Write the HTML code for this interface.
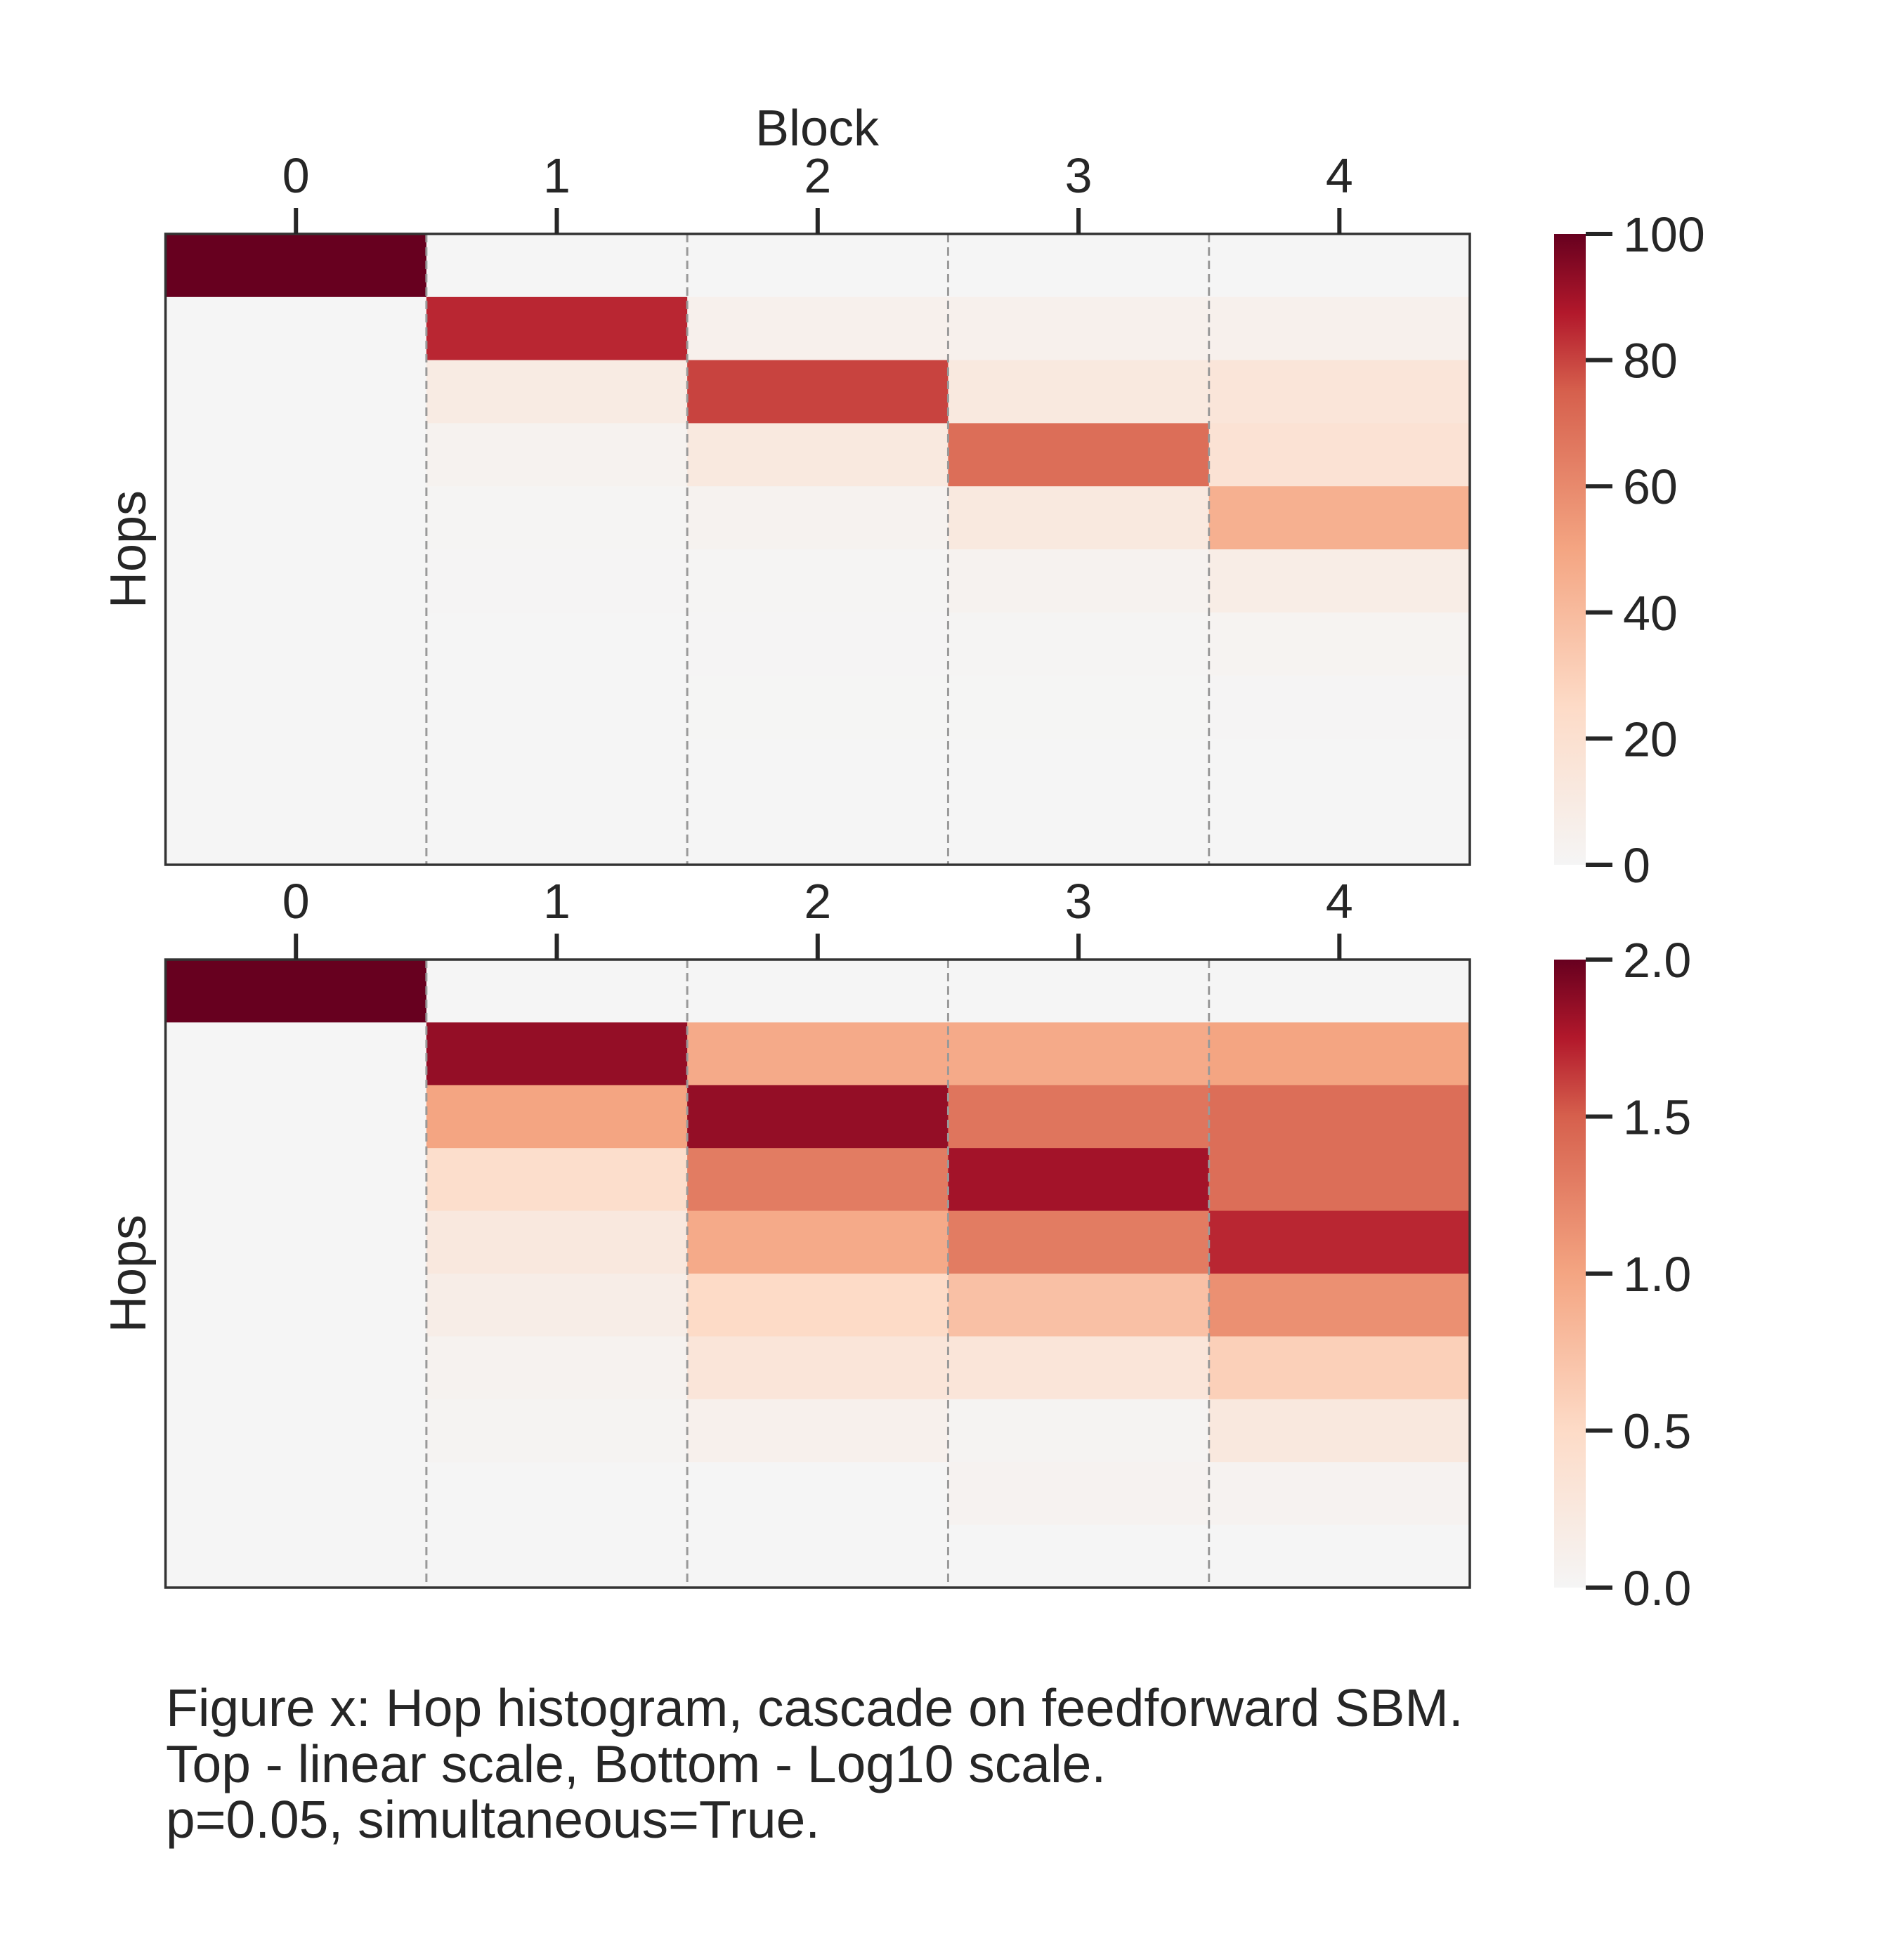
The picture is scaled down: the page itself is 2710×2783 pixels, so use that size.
<!DOCTYPE html>
<html><head><meta charset="utf-8"><style>
html,body{margin:0;padding:0;background:#fff;}
svg{display:block;font-family:"Liberation Sans",Arial,sans-serif;fill:#262626;}
</style></head><body>
<svg id="fig" width="2710" height="2783" viewBox="0 0 2710 2783" xmlns="http://www.w3.org/2000/svg">
<defs>
<linearGradient id="cb" x1="0" y1="1" x2="0" y2="0">
<stop offset="0" stop-color="#f5f5f5"/><stop offset="0.25" stop-color="#fddbc7"/><stop offset="0.5" stop-color="#f4a582"/><stop offset="0.75" stop-color="#d6604d"/><stop offset="0.875" stop-color="#b2182b"/><stop offset="1" stop-color="#67001f"/>
</linearGradient>
</defs>
<g id="layer"></g>
<text x="1163" y="207" font-size="72" text-anchor="middle">Block</text>
<text font-size="75">
<tspan x="236" y="2457">Figure x: Hop histogram, cascade on feedforward SBM.</tspan>
<tspan x="236" y="2537">Top - linear scale, Bottom - Log10 scale.</tspan>
<tspan x="236" y="2616">p=0.05, simultaneous=True.</tspan>
</text>
</svg>
<script>
const blocks = [0,1,2,3,4];
const topValues = [
 [100,0,0,0,0],
 [0,85,5,5,5],
 [0,10,80,12,15],
 [0,3,12,70,18],
 [0,1,3,12,45],
 [0,0.5,1,3,8],
 [0,0,0.5,1,2],
 [0,0,0.3,0.3,0.5],
 [0,0,0,0.2,0],
 [0,0,0,0,0]
];
const bottomValues = [
 [2,0,0,0,0],
 [0,1.85,0.95,0.95,1.0],
 [0,1.0,1.85,1.35,1.4],
 [0,0.45,1.3,1.8,1.4],
 [0,0.25,0.95,1.3,1.7],
 [0,0.15,0.5,0.75,1.15],
 [0,0.06,0.3,0.3,0.6],
 [0,0.03,0.1,0.03,0.25],
 [0,0,0,0.05,0.05],
 [0,0,0,0,0]
];
const topTicks = ["0","20","40","60","80","100"];
const topTickVals = [0,20,40,60,80,100];
const bottomTicks = ["0.0","0.5","1.0","1.5","2.0"];
const bottomTickVals = [0,0.5,1,1.5,2];

const NS="http://www.w3.org/2000/svg";
const layer=document.getElementById('layer');
function mk(tag,attrs){const e=document.createElementNS(NS,tag);for(const k in attrs)e.setAttribute(k,attrs[k]);layer.appendChild(e);return e;}
const stops=[[0,[245,245,245]],[0.25,[253,219,199]],[0.5,[244,165,130]],[0.75,[214,96,77]],[0.875,[178,24,43]],[1,[103,0,31]]];
function cmap(t){t=Math.max(0,Math.min(1,t));for(let i=1;i<stops.length;i++){if(t<=stops[i][0]){const a=stops[i-1],b=stops[i];const f=(t-a[0])/(b[0]-a[0]);const c=a[1].map((v,j)=>Math.round(v+(b[1][j]-v)*f));return `rgb(${c})`;}}return 'rgb(103,0,31)';}

const L=235.6,R=2092,CBX=2212,CBW=45;
function panel(vals,top,bot,vmax,ticks,tickVals,name){
  const cw=(R-L)/blocks.length, rh=(bot-top)/vals.length;
  const xs=b=>L+b*cw, ys=r=>top+r*rh;
  vals.forEach((row,r)=>row.forEach((v,b)=>{
    const e=mk('rect',{x:xs(b),y:ys(r),width:cw+0.5,height:rh+0.5,fill:cmap(v/vmax)});
    
    
  }));
  for(let b=1;b<blocks.length;b++){
    const e=mk('line',{x1:xs(b),x2:xs(b),y1:top,y2:bot,stroke:'#999',"stroke-width":3,"stroke-dasharray":"12,7"});
    
    
  }
  const fr=mk('rect',{x:L,y:top,width:R-L,height:bot-top,fill:'none',stroke:'#333',"stroke-width":3.5});
  
  
  blocks.forEach(b=>{
    const cx=xs(b)+cw/2;
    const t=mk('line',{x1:cx,x2:cx,y1:top-37,y2:top,stroke:'#262626',"stroke-width":6});
    
    
    const tx=mk('text',{x:cx,y:top-59,"font-size":70,"text-anchor":"middle"});
    tx.textContent=String(b);
    
    
  });
  const yl=mk('text',{x:0,y:0,"font-size":72,"text-anchor":"middle",transform:`translate(207,${(top+bot)/2}) rotate(-90)`});
  yl.textContent='Hops';
  
  
  const cb=mk('rect',{x:CBX,y:top,width:CBW,height:bot-top,fill:'url(#cb)'});
  
  
  tickVals.forEach((tv,i)=>{
    const y=bot-(tv/vmax)*(bot-top);
    const l=mk('line',{x1:CBX+CBW,x2:CBX+CBW+38,y1:y,y2:y,stroke:'#262626',"stroke-width":6});
    
    
    const t=mk('text',{x:2310,y:y+25,"font-size":70});
    t.textContent=ticks[i];
    
    
  });
}
panel(topValues,333,1231,100,topTicks,topTickVals,'top-heatmap');
panel(bottomValues,1366,2260,2,bottomTicks,bottomTickVals,'bottom-heatmap');
</script>
</body></html>
